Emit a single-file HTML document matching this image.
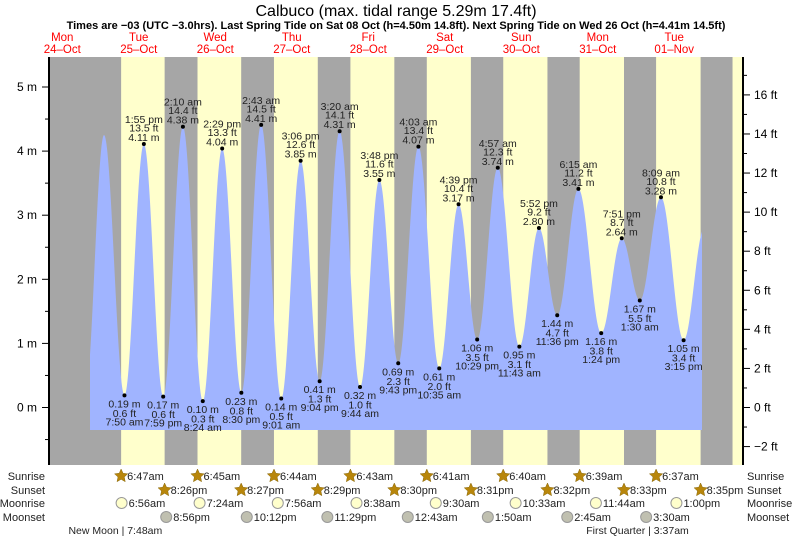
<!DOCTYPE html>
<html><head><meta charset="utf-8">
<style>
html,body{margin:0;padding:0;background:#fff;}
svg{display:block;font-family:"Liberation Sans",sans-serif;}
</style></head>
<body>
<svg id="chart" width="793" height="539" viewBox="0 0 793 539" xmlns="http://www.w3.org/2000/svg">
<text x="396" y="16" font-size="16" text-anchor="middle" fill="#000">Calbuco (max. tidal range 5.29m 17.4ft)</text>
<text x="396" y="29" font-size="11" font-weight="bold" text-anchor="middle" fill="#000">Times are −03 (UTC −3.0hrs). Last Spring Tide on Sat 08 Oct (h=4.50m 14.8ft). Next Spring Tide on Wed 26 Oct (h=4.41m 14.5ft)</text>
<g id="bands"></g>
<g id="water"></g>
<g id="axes"></g>
<g id="labels"></g>
<g id="almanac"></g>
</svg>
<script>
// ---- data ----
const dayNames = ["Mon","Tue","Wed","Thu","Fri","Sat","Sun","Mon","Tue"];
const dayDates = ["24-Oct","25-Oct","26-Oct","27-Oct","28-Oct","29-Oct","30-Oct","31-Oct","01-Nov"];
const tideDay = [0,1,1,1,1,2,2,2,2,3,3,3,3,4,4,4,4,5,5,5,5,6,6,6,6,7,7,7,8,8,8,8];
const tideTime = ["7:30 pm","1:25 am","7:50 am","1:55 pm","7:59 pm","2:10 am","8:24 am","2:29 pm","8:30 pm","2:43 am","9:01 am","3:06 pm","9:04 pm","3:20 am","9:44 am","3:48 pm","9:43 pm","4:03 am","10:35 am","4:39 pm","10:29 pm","4:57 am","11:43 am","5:52 pm","11:36 pm","6:15 am","1:24 pm","7:51 pm","1:30 am","8:09 am","3:15 pm","9:45 pm"];
const tideHeight = [0.2,4.25,0.19,4.11,0.17,4.38,0.10,4.04,0.23,4.41,0.14,3.85,0.41,4.31,0.32,3.55,0.69,4.07,0.61,3.17,1.06,3.74,0.95,2.80,1.44,3.41,1.16,2.64,1.67,3.28,1.05,2.8];
const tideFt = ["","","0.6","13.5","0.6","14.4","0.3","13.3","0.8","14.5","0.5","12.6","1.3","14.1","1.0","11.6","2.3","13.4","2.0","10.4","3.5","12.3","3.1","9.2","4.7","11.2","3.8","8.7","5.5","10.8","3.4",""];
const tideShown = [0,0,1,1,1,1,1,1,1,1,1,1,1,1,1,1,1,1,1,1,1,1,1,1,1,1,1,1,1,1,1,0];
const sunriseTimes = ["6:47am","6:45am","6:44am","6:43am","6:41am","6:40am","6:39am","6:37am","6:36am"];
const sunsetTimes = ["8:26pm","8:27pm","8:29pm","8:30pm","8:31pm","8:32pm","8:33pm","8:35pm"];
const moonriseTimes = ["6:56am","7:24am","7:56am","8:38am","9:30am","10:33am","11:44am","1:00pm"];
const moonsetDays = [1,2,3,5,6,7,8];
const moonsetTimes = ["8:56pm","10:12pm","11:29pm","12:43am","1:50am","2:45am","3:30am"];
const phaseDays = [1,8];
const phaseTimes = ["7:48am","3:37am"];
const phaseNames = ["New Moon","First Quarter"];
const mTicks = [0,1,2,3,4,5];
const ftTicks = [-2,0,2,4,6,8,10,12,14,16];

// ---- scales ----
const PL=49, PR=743, PT=57, PB=465;
const X0=23, PXH=76.5/24;
const Y0=407.5, PXM=64.1;
function parseT(s){const m=s.match(/(\d+):(\d+)\s*(am|pm)/);let h=+m[1]%12;if(m[3]==='pm')h+=12;return h+ +m[2]/60;}
function xH(h){return X0+h*PXH;}
function xDT(d,s){return xH(d*24+parseT(s));}
function yM(m){return Y0-m*PXM;}
const NS="http://www.w3.org/2000/svg";
function mk(tag,attrs,parent,txt){const e=document.createElementNS(NS,tag);for(const k in attrs)e.setAttribute(k,attrs[k]);if(txt!==undefined)e.textContent=txt;parent.appendChild(e);return e;}
const gB=document.getElementById('bands'),gW=document.getElementById('water'),gA=document.getElementById('axes'),gL=document.getElementById('labels'),gM=document.getElementById('almanac');

let r=mk('rect',{x:PL,y:PT,width:PR-PL,height:PB-PT,fill:'#a6a6a6'},gB);


for(let i=0;i<sunsetTimes.length+1;i++){
  const a=xDT(i+1,sunriseTimes[i]);
  const b=i<sunsetTimes.length?xDT(i+1,sunsetTimes[i]):PR;
  const e=mk('rect',{x:a,y:PT,width:Math.min(b,PR)-a,height:PB-PT,fill:'#ffffcc'},gB);
  
  
}

const ext=tideHeight.map((h,i)=>({t:tideDay[i]*24+parseT(tideTime[i]),h}));
function level(t){for(let i=0;i<ext.length-1;i++){const a=ext[i],b=ext[i+1];if(t>=a.t&&t<=b.t){const f=(t-a.t)/(b.t-a.t);return a.h+(b.h-a.h)*(1-Math.cos(Math.PI*f))/2;}}return ext[ext.length-1].h;}
const xs=90,xe=702,base=430;
let d=`M${xs},${base}`;
for(let x=xs;x<=xe;x+=0.5){d+=` L${x},${yM(level((x-X0)/PXH)).toFixed(2)}`;}
d+=` L${xe},${base} Z`;
const wp=mk('path',{d:d,fill:'#a0b4ff'},gW);



let ax=mk('line',{x1:PL,y1:PT,x2:PL,y2:PB,stroke:'#000','stroke-width':2},gA);


ax=mk('line',{x1:PR,y1:PT,x2:PR,y2:PB,stroke:'#000','stroke-width':2},gA);


for(let m=-0.5;m<=5.5;m+=0.5){const y=yM(m);if(y<PT||y>PB)continue;const major=Number.isInteger(m);mk('line',{x1:major?42:45,y1:y,x2:PL,y2:y,stroke:'#000'},gA);}
mTicks.forEach(m=>{const t=mk('text',{x:37,y:yM(m)+4,'font-size':12,'text-anchor':'end',fill:'#000'},gA,m+' m');});
for(let f=-3;f<=17;f++){const y=Y0-f*0.3048*PXM;if(y<PT||y>PB)continue;mk('line',{x1:PR,y1:y,x2:PR+(f%2===0?7:4),y2:y,stroke:'#000'},gA);}
ftTicks.forEach(f=>{const t=mk('text',{x:754,y:Y0-f*0.3048*PXM+4,'font-size':12,fill:'#000'},gA,(f<0?'−'+(-f):f)+' ft');});
dayNames.forEach((n,i)=>{const x=xH(i*24+12);
  let t=mk('text',{x:x+1,y:41,'font-size':11.5,'text-anchor':'middle',fill:'#ff0000'},gA,n);
  t=mk('text',{x:x+1,y:53,'font-size':11.5,'text-anchor':'middle',fill:'#ff0000'},gA,dayDates[i].replace('-','–'));});

ext.forEach((e,i)=>{if(!tideShown[i])return;const x=xDT(tideDay[i],tideTime[i]),y=yM(e.h);
  const c=mk('circle',{cx:x,cy:y,r:2,fill:'#000'},gL);
  const high=i>0&&e.h>ext[i-1].h;
  const lines=high?[[tideTime[i],-21],[tideFt[i]+' ft',-12.5],[e.h.toFixed(2)+' m',-3]]:[[e.h.toFixed(2)+' m',12],[tideFt[i]+' ft',21.5],[tideTime[i],30]];
  lines.forEach(l=>{const t=mk('text',{x:x,y:y+l[1],'font-size':10.5,'text-anchor':'middle',fill:'#222'},gL,l[0]);});
});

[['Sunrise',480],['Sunset',494],['Moonrise',507],['Moonset',521]].forEach(r=>{
  let t=mk('text',{x:45,y:r[1],'font-size':11,'text-anchor':'end',fill:'#222'},gM,r[0]);
  t=mk('text',{x:747,y:r[1],'font-size':11,fill:'#222'},gM,r[0]);});
function star(cx,cy){let p='';for(let k=0;k<10;k++){const a=-Math.PI/2+k*Math.PI/5,rr=k%2?3.3:7;p+=(cx+rr*Math.cos(a)).toFixed(1)+','+(cy+rr*Math.sin(a)).toFixed(1)+' ';}return p;}
function sunItem(d,tm,y,name){const x=xDT(d,tm);
  const s=mk('polygon',{points:star(x,y-4),fill:'#b8860b',stroke:'#8a6a10','stroke-width':0.5},gM);
  const t=mk('text',{x:x+6,y:y,'font-size':11,fill:'#222'},gM,tm);}
sunriseTimes.slice(0,8).forEach((tm,i)=>sunItem(i+1,tm,480,'sunrise'));
sunsetTimes.forEach((tm,i)=>sunItem(i+1,tm,494,'sunset'));
function moonItem(d,tm,y,fill,name){const x=xDT(d,tm);
  const c=mk('circle',{cx:x,cy:y-4,r:5.5,fill:fill,stroke:'#999','stroke-width':1},gM);
  const t=mk('text',{x:x+7,y:y,'font-size':11,fill:'#222'},gM,tm);}
moonriseTimes.forEach((tm,i)=>moonItem(i+1,tm,507,'#ffffcc','moonrise'));
moonsetTimes.forEach((tm,i)=>moonItem(moonsetDays[i],tm,521,'#c0c0b0','moonset'));
phaseTimes.forEach((tm,i)=>{const x=xDT(phaseDays[i],tm);const t=mk('text',{x:x-9,y:534,'font-size':10.5,'text-anchor':'middle',fill:'#222'},gM,phaseNames[i]+' | '+tm);});
</script>
</body></html>
